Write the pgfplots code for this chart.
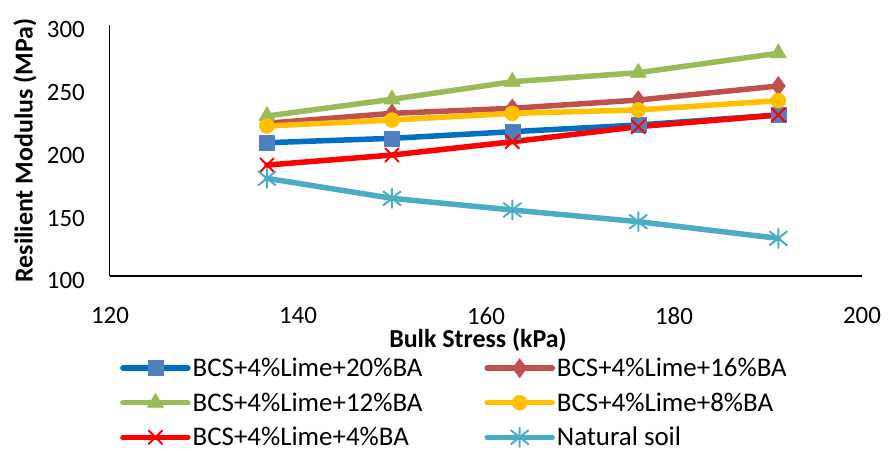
\documentclass[border=0pt]{standalone}
\usepackage{fontspec}
\setmainfont{Carlito}
\usepackage{pgfplots}
\pgfplotsset{compat=1.18}

\definecolor{c20}{HTML}{0070C0}
\definecolor{m20}{HTML}{4F81BD}
\definecolor{c16}{HTML}{C0504D}
\definecolor{c12}{HTML}{9BBB59}
\definecolor{c8}{HTML}{FFC000}
\definecolor{c4}{HTML}{FF0000}
\definecolor{cN}{HTML}{4BACC6}

% star marker: a cross with a vertical stroke
\pgfdeclareplotmark{xstar}{%
  \pgfpathmoveto{\pgfqpoint{-0.9\pgfplotmarksize}{-0.72\pgfplotmarksize}}%
  \pgfpathlineto{\pgfqpoint{0.9\pgfplotmarksize}{0.72\pgfplotmarksize}}%
  \pgfpathmoveto{\pgfqpoint{-0.9\pgfplotmarksize}{0.72\pgfplotmarksize}}%
  \pgfpathlineto{\pgfqpoint{0.9\pgfplotmarksize}{-0.72\pgfplotmarksize}}%
  \pgfpathmoveto{\pgfqpoint{0pt}{-\pgfplotmarksize}}%
  \pgfpathlineto{\pgfqpoint{0pt}{\pgfplotmarksize}}%
  \pgfusepathqstroke}

\begin{document}
\begin{tikzpicture}
\path[use as bounding box] (-110bp,-177bp) rectangle (778bp,276bp);
\begin{axis}[
  scale only axis, width=752bp, height=251bp,
  at={(0,0)}, anchor=south west,
  xmin=120, xmax=200, ymin=100, ymax=300,
  xtick={120,140,...,200}, ytick={100,150,...,300},
  axis x line*=bottom, axis y line*=left,
  axis line style={-},
  x axis line style={line width=2.5bp},
  y axis line style={line width=1bp},
  major tick length=0pt,
  tick style={draw=none},
  /pgf/number format/assume math mode=true,
  every tick label/.append style={font=\fontsize{25}{30}\selectfont},
  xticklabel style={anchor=center, yshift=-40bp},
  yticklabel style={anchor=east, inner sep=0pt, xshift=-25bp, yshift=-5bp},
  xlabel={Bulk Stress (kPa)},
  ylabel={Resilient Modulus (MPa)},
  xlabel style={font=\bfseries\fontsize{26}{30}\selectfont, at={(axis description cs:0.5,0)}, anchor=center, yshift=-64bp, xshift=-8bp},
  ylabel style={font=\bfseries\fontsize{26}{30}\selectfont, at={(axis description cs:0,0.5)}, anchor=center, yshift=85bp},
  legend columns=2,
  legend cell align=left,
  legend style={at={(axis description cs:0,0)}, anchor=north west,
    xshift=10bp, yshift=-80bp, draw=none, fill=none, inner sep=0pt,
    font=\fontsize{27}{30}\selectfont, row sep=10.5bp,
    /tikz/every even column/.append style={column sep=60bp}},
  legend image code/.code={\draw[mark repeat=2,mark phase=2] plot coordinates {(0bp,0bp) (32.5bp,0bp) (65bp,0bp)};},
  every axis plot/.append style={line width=5.5bp, line cap=round, line join=round},
]
\addplot[c20, mark=square*, mark size=7.5bp, mark options={solid, fill=m20, draw=m20, line width=0.5bp}]
  coordinates {(136.7,206.2) (150.0,209.7) (162.8,215.0) (176.2,220.3) (191.1,228.3)};
\addlegendentry{BCS+4\%Lime+20\%BA}
\addplot[c16, mark=diamond*, mark size=9.5bp, mark options={solid, fill=c16, draw=c16, line width=0.5bp}]
  coordinates {(136.7,221.7) (150.0,229.6) (162.8,233.6) (176.2,240.2) (191.1,251.4)};
\addlegendentry{BCS+4\%Lime+16\%BA}
\addplot[c12, mark=triangle*, mark size=9.5bp, mark options={solid, fill=c12, draw=c12, line width=0.5bp}]
  coordinates {(136.7,227.5) (150.0,240.8) (162.8,254.8) (176.2,262.0) (191.1,277.5)};
\addlegendentry{BCS+4\%Lime+12\%BA}
\addplot[c8, mark=*, mark size=7.5bp, mark options={solid, fill=c8, draw=c8, line width=0.5bp}]
  coordinates {(136.7,219.5) (150.0,224.3) (162.8,229.6) (176.2,232.3) (191.1,239.7)};
\addlegendentry{BCS+4\%Lime+8\%BA}
\addplot[c4, mark=x, mark size=9.5bp, mark options={solid, draw=c4, line width=2bp}]
  coordinates {(136.7,188.4) (150.0,196.4) (162.8,207.0) (176.2,219.0) (191.1,228.3)};
\addlegendentry{BCS+4\%Lime+4\%BA}
\addplot[cN, mark=xstar, mark size=9.5bp, mark options={solid, draw=cN, line width=2bp}]
  coordinates {(136.7,177.8) (150.0,161.9) (162.8,152.6) (176.2,143.3) (191.1,130.0)};
\addlegendentry{Natural soil}
\end{axis}
\end{tikzpicture}
\end{document}
